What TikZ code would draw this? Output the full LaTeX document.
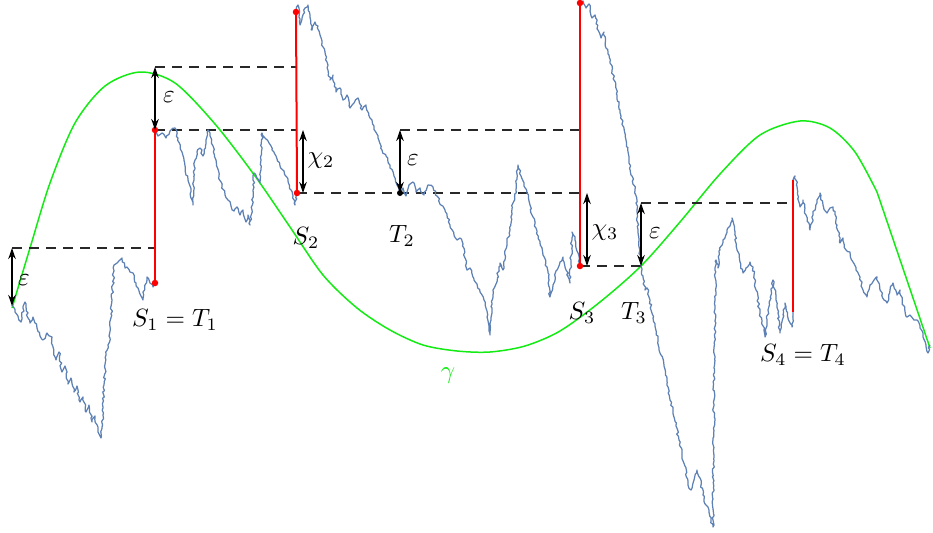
\documentclass[tikz,border=0pt]{standalone}
\usetikzlibrary{arrows.meta,decorations.pathmorphing}
\definecolor{bpath}{RGB}{94,129,181}
\definecolor{gcurve}{RGB}{20,235,20}
\definecolor{dline}{RGB}{40,40,40}
\tikzset{
  bm/.style={bpath,line width=0.5pt,line join=round,decorate,decoration={random steps,segment length=1.1pt,amplitude=0.45pt}},
  jump/.style={red,line width=0.8pt},
  dashlevel/.style={dline,line width=0.7pt,dash pattern=on 4pt off 2.8pt},
  arr/.style={{Stealth[length=4.4pt,width=3pt]}-{Stealth[length=4.4pt,width=3pt]},black,line width=0.6pt},
  rdot/.style={circle,fill=red,inner sep=0pt,minimum size=2.6pt},
  kdot/.style={circle,fill=black,inner sep=0pt,minimum size=2.4pt},
  lab/.style={inner sep=0pt}
}
\begin{document}
\begin{tikzpicture}[x=0.4pt,y=-0.4pt]
\pgfmathsetseed{12}
\useasboundingbox (0,0) rectangle (933,533);
% green curve
\draw[gcurve,line width=0.6pt] plot[smooth,tension=0.5] coordinates {(12,308) (30,248) (50,183) (75,123) (105,86) (140,72) (175,83) (215,124) (255,176) (290,227) (323,275) (357,308) (390,330) (423,345) (457,351) (490,352) (525,346) (560,331) (600,302) (641,266) (680,222) (720,174) (760,135) (800,121) (830,128) (855,152) (877,192)} -- (930,348);
% key coordinates
\coordinate (A0) at (12,306);
\coordinate (A0t) at (12,248);
\coordinate (S1) at (155,283);
\coordinate (S1l) at (155,248);
\coordinate (T1) at (155,130);
\coordinate (T1t) at (155,67);
\coordinate (S2) at (297,193);
\coordinate (S2a) at (297,130);
\coordinate (S2b) at (297,67);
\coordinate (S2u) at (296,12);
\coordinate (C2t) at (303,130);
\coordinate (C2b) at (303,193);
\coordinate (T2) at (400,193);
\coordinate (T2t) at (400,130);
\coordinate (S3) at (580,266);
\coordinate (S3a) at (580,193);
\coordinate (S3b) at (580,130);
\coordinate (S3u) at (580,3);
\coordinate (C3t) at (587,193);
\coordinate (C3b) at (587,266);
\coordinate (T3) at (641,266);
\coordinate (T3t) at (641,203);
\coordinate (S4) at (793,312);
\coordinate (S4a) at (793,203);
\coordinate (S4u) at (793,180);
% dashed levels
\draw[dashlevel] (A0t) -- (S1l);
\draw[dashlevel] (T1t) -- (S2b);
\draw[dashlevel] (T1) -- (S2a);
\draw[dashlevel] (S2) -- (S3a);
\draw[dashlevel] (T2t) -- (S3b);
\draw[dashlevel] (S3) -- (T3);
\draw[dashlevel] (T3t) -- (S4a);
% brownian path
\draw[bm] plot coordinates {(12,305) (15,312) (18,316) (21,322) (25,302) (28,318) (30,323) (33,317) (37,328) (40,336) (43,340) (47,333) (52,337) (53,347) (56,360) (59,352) (62,372) (65,366) (68,384) (71,378) (74,392) (77,386) (80,402) (83,397) (86,412) (89,405) (92,422) (95,416) (98,432) (101,438) (103,415) (104,385) (106,355) (108,345) (110,338) (112,300) (114,265) (118,262) (122,258) (125,268) (127,267) (130,272) (133,273) (136,283) (138,288) (141,296) (143,300) (145,285) (147,277) (150,283) (153,287) (155,283)};
\draw[bm] plot coordinates {(155,130) (158,136) (162,133) (166,138) (170,131) (175,128) (178,138) (182,152) (185,166) (188,180) (190,186) (192,200) (193,205) (194,180) (195,160) (197,152) (200,148) (203,156) (206,140) (208,130) (211,138) (213,146) (216,160) (219,176) (222,186) (225,195) (228,200) (231,206) (234,211) (237,207) (240,215) (243,210) (246,222) (248,215) (250,225) (252,210) (253,190) (254,173) (257,178) (260,183) (261,160) (262,133) (265,138) (268,141) (272,150) (276,156) (280,166) (284,171) (288,180) (291,190) (293,196) (295,205) (297,193)};
\draw[bm] plot coordinates {(296,12) (298,5) (300,25) (302,18) (305,8) (308,5) (310,15) (312,30) (315,22) (318,26) (320,35) (322,43) (325,52) (327,62) (330,80) (333,75) (336,92) (340,88) (343,100) (347,95) (350,108) (354,103) (358,98) (362,110) (366,105) (370,118) (374,126) (378,138) (382,150) (386,156) (390,168) (394,176) (397,185) (400,193) (403,188) (406,196) (409,185) (413,182) (416,192) (420,188) (424,195) (428,185) (433,187) (437,196) (441,205) (445,210) (447,214) (450,225) (454,235) (457,240) (460,238) (463,244) (465,258) (467,270) (470,268) (474,280) (477,284) (480,292) (484,300) (487,311) (489,328) (490,335) (491,320) (493,290) (496,284) (500,263) (503,270) (507,243) (510,230) (513,203) (516,190) (518,165) (521,176) (524,186) (527,193) (530,205) (533,217) (536,228) (540,243) (543,255) (547,267) (549,280) (550,297) (553,285) (557,270) (560,262) (563,257) (566,270) (570,283) (571,260) (572,232) (575,240) (578,253) (580,266)};
\draw[bm] plot coordinates {(580,3) (583,1) (586,8) (589,4) (592,18) (595,15) (598,30) (601,38) (604,32) (606,48) (609,55) (612,70) (614,80) (617,95) (620,110) (623,126) (626,140) (629,160) (632,176) (635,190) (637,210) (639,240) (641,266) (643,276) (645,290) (647,288) (650,300) (653,318) (655,326) (658,340) (661,355) (664,366) (667,380) (670,400) (673,410) (676,426) (679,440) (682,455) (685,466) (688,485) (691,490) (694,480) (697,470) (700,478) (703,495) (706,505) (709,510) (711,520) (713,527) (714,400) (715,300) (716,260) (718,268) (720,250) (723,240) (727,230) (730,226) (732,218) (735,232) (737,250) (740,262) (743,273) (746,268) (750,262) (753,267) (756,290) (760,313) (763,326) (765,337) (768,310) (771,295) (773,280) (776,300) (780,333) (783,315) (785,303) (788,318) (792,327) (793,312)};
\draw[bm] plot coordinates {(793,180) (795,176) (797,186) (800,207) (803,200) (806,215) (810,230) (813,215) (817,200) (820,193) (823,205) (827,213) (830,208) (833,207) (837,225) (840,243) (843,238) (846,250) (850,252) (853,262) (856,270) (860,277) (863,290) (867,297) (870,285) (874,280) (877,277) (880,290) (884,300) (887,303) (890,290) (893,283) (897,295) (900,290) (903,305) (907,317) (910,315) (914,320) (917,320) (920,328) (923,333) (926,345) (928,353) (930,345)};
% red jumps
\draw[jump] (S1) -- (T1);
\draw[jump] (S2) -- (S2u);
\draw[jump] (S3) -- (S3u);
\draw[jump] (S4) -- (S4u);
\node[rdot] (dS1) at (S1) {};
\node[rdot] (dT1) at (T1) {};
\node[rdot] (dS2) at (S2) {};
\node[rdot] (dS2u) at (S2u) {};
\node[rdot] (dS3) at (S3) {};
\node[rdot] (dS3u) at (S3u) {};
\node[kdot] (dT2) at (T2) {};
% arrows
\draw[arr] (A0t) -- (A0);
\draw[arr] (T1t) -- (T1);
\draw[arr] (C2t) -- (C2b);
\draw[arr] (T2t) -- (T2);
\draw[arr] (C3t) -- (C3b);
\draw[arr] (T3t) -- (T3);
% labels
\node[lab] (e1) at (24,280) {$\varepsilon$};
\node[lab] (e2) at (169,97) {$\varepsilon$};
\node[lab] (e3) at (413,160) {$\varepsilon$};
\node[lab] (e4) at (655,233) {$\varepsilon$};
\node[lab] (x2) at (321,161) {$\chi_2$};
\node[lab] (x3) at (605,233) {$\chi_3$};
\node[lab] (l1) at (175,320) {$S_1=T_1$};
\node[lab] (l2) at (306,238) {$S_2$};
\node[lab] (l3) at (402,236) {$T_2$};
\node[lab] (l4) at (582,313) {$S_3$};
\node[lab] (l5) at (634,313) {$T_3$};
\node[lab] (l6) at (803,355) {$S_4=T_4$};
\node[lab,text=gcurve] (lg) at (448,376) {$\gamma$};
\end{tikzpicture}
\end{document}
